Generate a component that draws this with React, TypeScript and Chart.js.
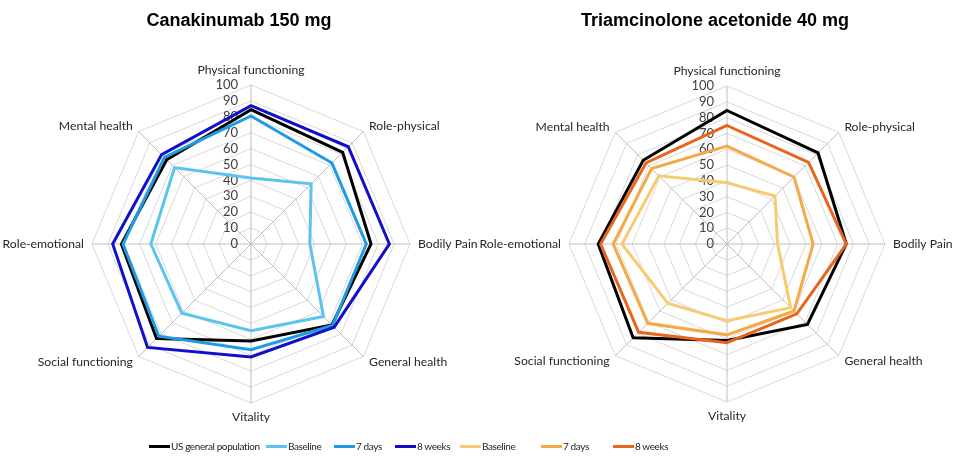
import React, { useEffect, useRef } from "react";
import { Chart, registerables } from "chart.js";

Chart.register(...registerables);

const axisLabels = [
  "Physical functioning",
  "Role-physical",
  "Bodily Pain",
  "General health",
  "Vitality",
  "Social functioning",
  "Role-emotional",
  "Mental health",
];

const tickValues = [0, 10, 20, 30, 40, 50, 60, 70, 80, 90, 100];

const usPopulation = [84.5, 81.5, 75.5, 72, 61, 84, 81.5, 75];

const canaBaseline = [41.5, 53.5, 37, 64.5, 54.5, 61.5, 63, 68];
const cana7Days = [80.5, 72, 72.5, 72.5, 66.5, 82, 80.5, 77];
const cana8Weeks = [87, 86.5, 87, 74, 71, 92, 87, 79.5];

const triaBaseline = [38.7, 43, 32, 57, 48.5, 53, 66.5, 61];
const tria7Days = [62, 60, 54.5, 60, 57.5, 71, 72, 67.5];
const tria8Weeks = [75, 73, 75.5, 62.5, 62.5, 79, 80, 72.5];

const titles = ["Canakinumab 150 mg", "Triamcinolone acetonide 40 mg"];

const colUS = "#000000";
const colCanaBase = "#5CC3F0";
const colCana7 = "#1E9CE3";
const colCana8 = "#1010C8";
const colTriaBase = "#F8CB72";
const colTria7 = "#F3AA48";
const colTria8 = "#E8651E";

const legendNames = ["US general population", "Baseline", "7 days", "8 weeks", "Baseline", "7 days", "8 weeks"];
const legendColors = [colUS, colCanaBase, colCana7, colCana8, colTriaBase, colTria7, colTria8];
const legendX = [149, 266, 334, 395, 460, 541, 613];

const labelPlugin = {
  id: "customLabels",
  beforeDatasetsDraw(chart: any) {
    const s = chart.scales.r;
    const ctx = chart.ctx;
    ctx.save();
    ctx.font = "13px Lato";
    ctx.fillStyle = "#404040";
    ctx.textAlign = "right";
    ctx.textBaseline = "middle";
    tickValues.forEach((v) => {
      const d = s.getDistanceFromCenterForValue(v);
      ctx.fillText(String(v), s.xCenter - 13, s.yCenter - d);
    });
    ctx.restore();
  },
  afterDraw(chart: any) {
    const s = chart.scales.r;
    const ctx = chart.ctx;
    ctx.save();
    ctx.font = "12.2px Lato";
    ctx.fillStyle = "#262626";
    const dist = s.drawingArea + 8;
    (chart.data.labels as string[]).forEach((lab, i) => {
      const p = s.getPointPosition(i, dist);
      const dx = (p.x - s.xCenter) / dist;
      const dy = (p.y - s.yCenter) / dist;
      ctx.textAlign = Math.abs(dx) < 0.1 ? "center" : dx > 0 ? "left" : "right";
      ctx.textBaseline = dy < -0.9 ? "bottom" : dy > 0.9 ? "top" : "middle";
      ctx.fillText(lab, p.x, p.y + (dy < -0.9 ? -1 : 0));
    });
    ctx.restore();
  },
};

function makeDataset(label: string, data: number[], color: string, order: number) {
  return {
    label,
    data,
    borderColor: color,
    backgroundColor: "rgba(0,0,0,0)",
    borderWidth: 3,
    pointRadius: 0,
    fill: false,
    order,
  };
}

function RadarChart(props: {
  datasets: any[];
  width: number;
  height: number;
  padding: { left: number; right: number; top: number; bottom: number };
}) {
  const ref = useRef<HTMLCanvasElement>(null);
  useEffect(() => {
    if (!ref.current) return;
    const chart = new Chart(ref.current, {
      type: "radar",
      data: { labels: axisLabels, datasets: props.datasets },
      options: {
        responsive: false,
        animation: false,
        devicePixelRatio: 1,
        layout: { padding: props.padding },
        plugins: { legend: { display: false }, tooltip: { enabled: false } },
        elements: { line: { tension: 0, borderJoinStyle: "miter" } },
        scales: {
          r: {
            min: 0,
            max: 100,
            ticks: { display: false, stepSize: 10 },
            grid: { color: "#D9D9D9", lineWidth: 1 },
            angleLines: { color: "#BFBFBF", lineWidth: 1 },
            pointLabels: { display: false },
          },
        },
      },
      plugins: [labelPlugin],
    } as any);
    return () => chart.destroy();
  }, []);
  return (
    <canvas
      ref={ref}
      width={props.width}
      height={props.height}
      style={{ width: props.width, height: props.height, display: "block" }}
    />
  );
}

export default function App() {
  const leftSets = [
    makeDataset("US general population", usPopulation, colUS, 3),
    makeDataset("Baseline", canaBaseline, colCanaBase, 2),
    makeDataset("7 days", cana7Days, colCana7, 1),
    makeDataset("8 weeks", cana8Weeks, colCana8, 0),
  ];
  const rightSets = [
    makeDataset("US general population", usPopulation, colUS, 3),
    makeDataset("Baseline", triaBaseline, colTriaBase, 2),
    makeDataset("7 days", tria7Days, colTria7, 1),
    makeDataset("8 weeks", tria8Weeks, colTria8, 0),
  ];
  return (
    <div
      style={{
        position: "absolute",
        left: 0,
        top: 0,
        width: 959,
        height: 460,
        background: "#fff",
        overflow: "hidden",
      }}
    >
      <div style={{ position: "absolute", left: 0, top: 0 }}>
        <RadarChart datasets={leftSets} width={480} height={460} padding={{ left: 92, right: 70, top: 85, bottom: 57 }} />
      </div>
      <div style={{ position: "absolute", left: 480, top: 0 }}>
        <RadarChart datasets={rightSets} width={479} height={460} padding={{ left: 89, right: 74, top: 86, bottom: 58 }} />
      </div>
      <div
        style={{
          position: "absolute",
          left: 0,
          width: 478,
          top: 11,
          textAlign: "center",
          font: "bold 18px 'Liberation Sans', Arial, sans-serif",
          lineHeight: "18px",
          color: "#000",
        }}
      >
        {titles[0]}
      </div>
      <div
        style={{
          position: "absolute",
          left: 480,
          width: 490,
          top: 11,
          textAlign: "center",
          font: "bold 18px 'Liberation Sans', Arial, sans-serif",
          lineHeight: "18px",
          color: "#000",
          whiteSpace: "nowrap",
          marginLeft: -10,
        }}
      >
        {titles[1]}
      </div>
      {legendNames.map((name, i) => (
        <div
          key={i}
          style={{
            position: "absolute",
            left: legendX[i],
            top: 438,
            height: 16,
            display: "flex",
            alignItems: "center",
            whiteSpace: "nowrap",
          }}
        >
          <div style={{ width: 21, height: 3, background: legendColors[i] }} />
          <span
            style={{
              font: "10px Lato, sans-serif",
              letterSpacing: "-0.4px",
              color: "#262626",
              marginLeft: 1,
            }}
          >
            {name}
          </span>
        </div>
      ))}
    </div>
  );
}
